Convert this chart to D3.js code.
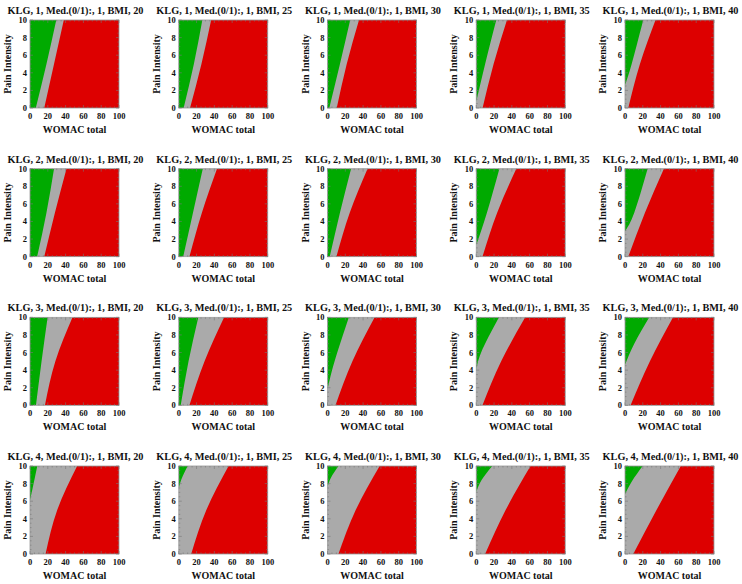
<!DOCTYPE html>
<html><head><meta charset="utf-8">
<script src="https://cdn.jsdelivr.net/npm/d3@7"></script>
<style>body{margin:0;background:#fff}svg{display:block}</style>
</head><body>
<script>
const klgLevels = [1, 2, 3, 4];
const bmiLevels = [20, 25, 30, 35, 40];
const medValue = 1;
const xTicks = [0, 20, 40, 60, 80, 100];
const yTicks = [0, 2, 4, 6, 8, 10];
const xLabel = "WOMAC total";
const yLabel = "Pain Intensity";

// green / gray boundary, points [WOMAC, pain], row-major (KLG rows, BMI columns)
const greenBoundary = [
  [[6.5,0],[18.5,5],[29.5,10]],
  [[5.5,0],[17,5],[26.5,10]],
  [[2,0],[14,5],[25.5,10]],
  [[0,0.7],[10,5],[22.5,10]],
  [[0,2.6],[7.5,5],[20.5,10]],

  [[8,0],[18.5,5],[27,10]],
  [[5,0],[16,5],[27,10]],
  [[2.5,0],[14,5],[26.5,10]],
  [[0,1.3],[12,5],[26,10]],
  [[0,2.9],[10.4,5],[25.4,10]],

  [[6.7,0],[13,5],[19.8,10]],
  [[2.2,0],[11,5],[22,10]],
  [[0,1.8],[8,5],[24,10]],
  [[0,3.8],[5.5,6],[25.5,10]],
  [[0,4.6],[10.4,7],[27.2,10]],

  [[0,6.1],[3,7.5],[8.2,10]],
  [[0,7.4],[3,8.5],[10,10]],
  [[0,7.6],[4,8.7],[12.3,10]],
  [[0,7.0],[6,8.4],[18,10]],
  [[0,6.8],[8,8.3],[19.8,10]]
];

// gray / red boundary, points [WOMAC, pain]
const redBoundary = [
  [[16,0],[27,5],[38,10]],
  [[12.7,0],[25.5,5],[36.4,10]],
  [[10.4,0],[21.6,5],[35.4,10]],
  [[7.1,0],[19.5,5],[34.5,10]],
  [[3.7,0],[16.8,5],[34.3,10]],

  [[16,0],[28,5],[41,10]],
  [[12,0],[26,5],[43,10]],
  [[10,0],[25,5],[45,10]],
  [[7,0],[23.5,5],[45,10]],
  [[3.7,0],[22.4,5],[43.7,10]],

  [[16.8,0],[28.5,5],[47.8,10]],
  [[12,0],[29,5],[51,10]],
  [[9,0],[28,5],[53,10]],
  [[7,0],[28,5],[55,10]],
  [[6.3,0],[28,5],[54,10]],

  [[17.5,0],[30.6,5],[53,10]],
  [[14,0],[31,5],[56,10]],
  [[12.3,0],[31.7,5],[58.6,10]],
  [[10,0],[33,5],[61,10]],
  [[9.3,0],[35.4,5],[62.7,10]]
];

const W = 742, H = 584;
const colX = d3.scaleLinear().domain([0, 4]).range([30, 625]);
const rowY = d3.scaleLinear().domain([0, 3]).range([20, 466]);
const pw = 89, ph = 88;
const GREEN = "#00aa00", GRAY = "#aaaaaa", RED = "#dd0000";
const FONT = "'Liberation Serif', 'Times New Roman', serif";

const svg = d3.select("body").append("svg").attr("width", W).attr("height", H);
const x = d3.scaleLinear().domain([0, 100]).range([0, pw]);
const y = d3.scaleLinear().domain([0, 10]).range([ph, 0]);
const line = d3.line().x(d => x(d[0])).y(d => y(d[1])).curve(d3.curveNatural);

klgLevels.forEach((klg, r) => {
  bmiLevels.forEach((bmi, c) => {
    const i = r * bmiLevels.length + c;
    const g = svg.append("g").attr("transform", `translate(${colX(c)},${rowY(r)})`);
    const cid = `clip${i}`;
    g.append("clipPath").attr("id", cid).append("rect").attr("width", pw).attr("height", ph);
    const pg = g.append("g").attr("clip-path", `url(#${cid})`);
    pg.append("rect").attr("width", pw).attr("height", ph).attr("fill", GRAY);
    const rb = redBoundary[i];
    const rPath = line(rb) + `L${x(100)},${y(10)}L${x(100)},${y(0)}Z`;
    pg.append("path").attr("d", rPath).attr("fill", RED);
    const gb = greenBoundary[i];
    const gPath = line(gb) + `L${x(0)},${y(10)}L${x(0)},${y(gb[0][1])}Z`;
    pg.append("path").attr("d", gPath).attr("fill", GREEN);

    g.append("rect").attr("width", pw).attr("height", ph)
      .attr("fill", "none").attr("stroke", "#999").attr("stroke-width", 0.8);
    const tk = g.append("g").attr("stroke", "#777").attr("stroke-width", 0.6);
    d3.range(0, 101, 5).forEach(v => {
      const L = v % 20 === 0 ? 3 : 1.5;
      tk.append("line").attr("x1", x(v)).attr("x2", x(v)).attr("y1", ph).attr("y2", ph - L);
      tk.append("line").attr("x1", x(v)).attr("x2", x(v)).attr("y1", 0).attr("y2", L);
    });
    d3.range(0, 10.01, 0.5).forEach(v => {
      const L = Math.abs(v % 2) < 1e-6 ? 3 : 1.5;
      tk.append("line").attr("y1", y(v)).attr("y2", y(v)).attr("x1", 0).attr("x2", L);
      tk.append("line").attr("y1", y(v)).attr("y2", y(v)).attr("x1", pw).attr("x2", pw - L);
    });

    const txt = g.append("g").attr("font-family", FONT).attr("font-weight", "bold").attr("fill", "#111");
    txt.selectAll(".xt").data(xTicks).join("text")
      .attr("x", d => x(d)).attr("y", ph + 11).attr("text-anchor", "middle")
      .attr("font-size", 8.5).text(d => d);
    txt.selectAll(".yt").data(yTicks).join("text")
      .attr("x", -3).attr("y", d => y(d) + 3).attr("text-anchor", "end")
      .attr("font-size", 8.5).text(d => d);
    txt.append("text").attr("x", pw / 2).attr("y", ph + 25).attr("text-anchor", "middle")
      .attr("font-size", 10).text(xLabel);
    txt.append("text").attr("transform", `translate(-19,${ph / 2}) rotate(-90)`)
      .attr("text-anchor", "middle").attr("font-size", 10).text(yLabel);
    txt.append("text").attr("x", pw / 2 + 1).attr("y", -6).attr("text-anchor", "middle")
      .attr("font-size", 10.3).text(`KLG, ${klg}, Med.(0/1):, ${medValue}, BMI, ${bmi}`);
  });
});
</script>
</body></html>
